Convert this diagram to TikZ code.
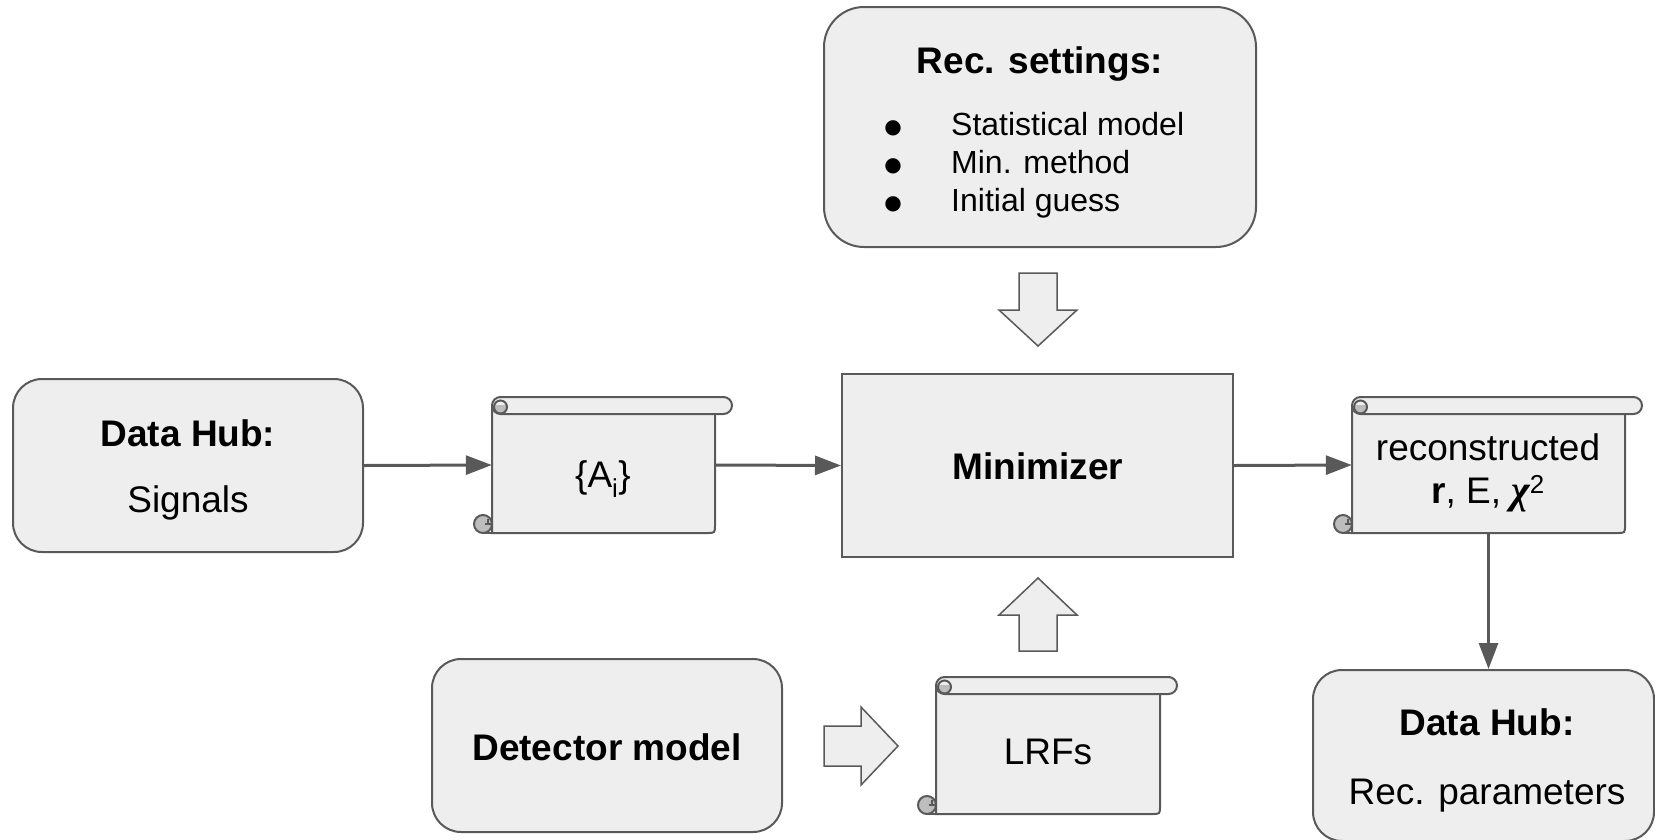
\documentclass[tikz,border=0pt]{standalone}
\usepackage{fontspec}
\setmainfont{Liberation Sans}
\newfontfamily\dotfont{DejaVu Sans}
\newfontfamily\greekfont{Liberation Serif}
\usetikzlibrary{arrows.meta}

\definecolor{boxfill}{HTML}{EEEEEE}
\definecolor{edge}{HTML}{595959}
\definecolor{curlfill}{HTML}{BDBDBD}

% Scroll shape: #1 name, #2 left, #3 top, #4 right, #5 bottom (in px units)
\newcommand\scrollshape[5]{%
  % sheet
  \draw[sline, fill=boxfill]
    ({#2+17},{#3+8.5}) -- ({#2+17},{#5}) -- ({#4-25},{#5})
    .. controls ({#4-17},{#5}) .. ({#4-17},{#5-8}) -- ({#4-17},{#3+8.5}) -- cycle;
  \draw[sline] ({#2+8},{#5}) -- ({#2+17},{#5});
  % top roll
  \draw[sline, fill=boxfill, rounded corners=8.5pt] ({#2+17},{#3}) rectangle ({#4},{#3+17});
  % inner loop of the top roll, lower part shaded
  \begin{scope}
    \clip ({#2+17},{#3+8.5}) rectangle ({#2+40},{#3+20});
    \fill[curlfill] ({#2+25.5},{#3+10}) circle (6.5);
  \end{scope}
  \draw[sline] ({#2+25.5},{#3+10}) circle (6.5);
  \draw[sline] ({#2+25.5},{#3+16.5}) -- ({#2+34},{#3+16.5});
  % bottom curl
  \draw[sline, fill=curlfill] ({#2+8},{#5-9}) circle (9);
  \draw[sline] ({#2+10},{#5-9}) -- ({#2+17},{#5-9});
  \draw[sline] ({#2+13},{#5-9}) -- ({#2+13},{#5-14});
  % anchor node covering the sheet
  \node[inner sep=0, minimum width={(#4-#2-34)*1pt}, minimum height={(#5-#3)*1pt}]
    (#1) at ({(#2+#4)/2},{(#3+#5)/2}) {};
}

\begin{document}
\begin{tikzpicture}[x=1pt, y=-1pt,
  sline/.style={draw=edge, line width=2pt},
  rbox/.style={draw=edge, line width=2pt, fill=boxfill, inner sep=0, rounded corners=29pt},
  sbox/.style={draw=edge, line width=2pt, fill=boxfill, inner sep=0},
  txt/.style={inner sep=0, anchor=base, font=\fontsize{37}{42}\selectfont},
  btxt/.style={inner sep=0, anchor=base, font=\fontsize{37}{42}\selectfont\bfseries},
  itxt/.style={inner sep=0, anchor=base west, font=\fontsize{32}{38}\selectfont},
  dot/.style={inner sep=0, anchor=base, font=\dotfont\fontsize{20}{24}\selectfont},
  conn/.style={draw=edge, line width=3pt, -{Triangle[length=26pt, width=19pt]}},
  blk/.style={draw=edge, line width=1.5pt, fill=boxfill, line join=miter},
]
\useasboundingbox (0,0) rectangle (1655,839);
\clip (0,0) rectangle (1655,839);

% boxes
\node[rbox, minimum width=350pt, minimum height=173pt] (hubin) at (188,465.5) {};
\node[rbox, minimum width=432pt, minimum height=240pt, rounded corners=40pt] (settings) at (1040,127) {};
\node[sbox, minimum width=391pt, minimum height=183pt] (minim) at (1037.5,465.5) {};
\node[rbox, minimum width=350pt, minimum height=173pt] (detector) at (607,745.5) {};
\node[rbox, minimum width=341pt, minimum height=171pt] (hubout) at (1483.5,755.5) {};

% scrolls
\scrollshape{amps}{475}{397}{732}{533}
\scrollshape{result}{1335}{397}{1642}{533}
\scrollshape{lrfs}{919}{677}{1177}{814}

% texts
\node[btxt] (hubinT) at (188,446) {Data Hub:};
\node[txt] (hubinS) at (188,512) {Signals};
\node[btxt] (setT) at (1040,73) {Rec. settings:};
\node[dot] (d1) at (893,133) {●};
\node[dot] (d2) at (893,171) {●};
\node[dot] (d3) at (893,209) {●};
\node[itxt] (i1) at (951,135) {Statistical model};
\node[itxt] (i2) at (951,173) {Min. method};
\node[itxt] (i3) at (951,211) {Initial guess};
\node[btxt] (minT) at (1038,479) {Minimizer};
\node[txt] (ampT) at (603,487) {\{A\textsubscript{i}\}};
\node[txt] (resT1) at (1488,460) {reconstructed};
\node[txt] (resT2) at (1488,503) {\textbf{r}, E, {\greekfont\bfseries\itshape\fontsize{40}{42}\selectfont χ}\textsuperscript{2}};
\node[txt] (lrfT) at (1048,764) {LRFs};
\node[btxt] (detT) at (607,760) {Detector model};
\node[btxt] (houtT) at (1487,735) {Data Hub:};
\node[txt] (houtS) at (1487,804) {Rec. parameters};

% connectors
\draw[conn] (hubin.east) -- (amps.west);
\draw[conn] (amps.east) -- (minim.west);
\draw[conn] (minim.east) -- (result.west);
\draw[conn] (result.south) -- (result.south |- hubout.north);

% block arrows
\draw[blk] (1019,273) -- (1057,273) -- (1057,310) -- (1077,310) -- (1038,346)
  -- (999,310) -- (1019,310) -- cycle;
\draw[blk] (1019,651) -- (1057,651) -- (1057,615) -- (1077,615) -- (1038,578)
  -- (999,615) -- (1019,615) -- cycle;
\draw[blk] (824,726) -- (861,726) -- (861,707) -- (898,746) -- (861,785)
  -- (861,766) -- (824,766) -- cycle;
\end{tikzpicture}
\end{document}
